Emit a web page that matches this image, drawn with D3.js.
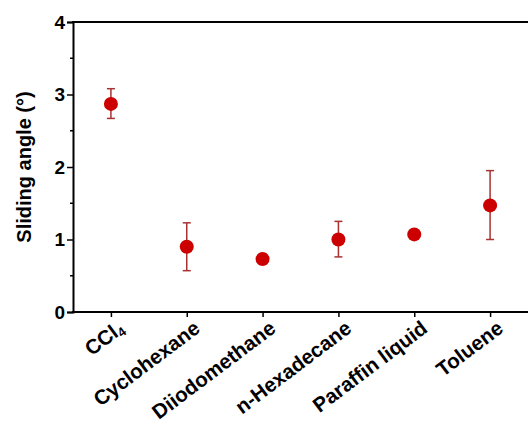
<!DOCTYPE html>
<html>
<head>
<meta charset="utf-8">
<script src="https://cdn.jsdelivr.net/npm/d3@7"></script>
<style>
  body { margin: 0; background: #fff; }
  svg { display: block; }
  svg text { font-family: 'Liberation Sans', Arial, sans-serif; font-weight: bold; fill: #000; }
</style>
</head>
<body>
<div id="chart"></div>
<script>
const liquids = ['CCl4', 'Cyclohexane', 'Diiodomethane', 'n-Hexadecane', 'Paraffin liquid', 'Toluene']
const angleMean = [2.87, 0.90, 0.73, 1.00, 1.07, 1.47]
const angleErrHigh = [3.08, 1.23, 0.80, 1.25, 1.12, 1.95]
const angleErrLow = [2.67, 0.57, 0.66, 0.76, 1.01, 1.00]
const yTicks = [0, 1, 2, 3, 4]
const yMinorTicks = [0.5, 1.5, 2.5, 3.5]

const width = 528
const height = 426
const margin = { top: 22, right: 0, bottom: 114, left: 73 }

const svg = d3.select('#chart')
  .append('svg')
  .attr('width', width)
  .attr('height', height)

const x = d3.scalePoint()
  .domain(liquids)
  .range([margin.left, width - margin.right])
  .padding(0.5)

const y = d3.scaleLinear()
  .domain([0, 4])
  .range([height - margin.bottom, margin.top])

const points = liquids.map((name, i) => ({
  name,
  mean: angleMean[i],
  hi: angleErrHigh[i],
  lo: angleErrLow[i]
}))

// y axis
const yAxis = svg.append('g')
  .attr('transform', `translate(${margin.left},0)`)
  .call(d3.axisLeft(y).tickValues(yTicks).tickFormat(d3.format('d')).tickSize(6).tickPadding(2))
yAxis.select('.domain').attr('stroke-width', 2)
yAxis.selectAll('.tick line').attr('stroke-width', 1.5)
yAxis.selectAll('.tick text').style('font-size', '19px')

yAxis.selectAll('.minor')
  .data(yMinorTicks)
  .enter()
  .append('line')
  .attr('class', 'minor')
  .attr('x1', -3)
  .attr('x2', 0)
  .attr('y1', d => y(d))
  .attr('y2', d => y(d))
  .attr('stroke', '#000')
  .attr('stroke-width', 1.5)

// x axis
const xAxis = svg.append('g')
  .attr('transform', `translate(0,${height - margin.bottom})`)
  .call(d3.axisBottom(x).tickSize(5).tickFormat(''))
xAxis.select('.domain').remove()
xAxis.selectAll('.tick line').attr('stroke-width', 1.5)
xAxis.append('line')
  .attr('x1', margin.left - 1)
  .attr('x2', width)
  .attr('stroke', '#000')
  .attr('stroke-width', 2)

const labels = xAxis.selectAll('.tick')
  .append('text')
  .style('font-size', '20.5px')
  .attr('text-anchor', 'end')
  .attr('transform', 'translate(14,19) rotate(-37)')

labels.each(function (d) {
  const t = d3.select(this)
  if (d === 'CCl4') {
    t.append('tspan').text('CCl')
    t.append('tspan').style('font-size', '13px').attr('dy', 3).text('4')
  } else {
    t.text(d)
  }
})

// top frame line
svg.append('line')
  .attr('x1', margin.left - 1)
  .attr('x2', width)
  .attr('y1', y(4))
  .attr('y2', y(4))
  .attr('stroke', '#000')
  .attr('stroke-width', 2)

// y label
svg.append('text')
  .attr('transform', `translate(31,${(y(0) + y(4)) / 2}) rotate(-90)`)
  .attr('text-anchor', 'middle')
  .style('font-size', '20px')
  .text('Sliding angle (°)')

// error bars
const bars = svg.append('g').attr('class', 'errors')
  .selectAll('g')
  .data(points)
  .enter()
  .append('g')
  .attr('stroke', '#a83232')
  .attr('stroke-width', 1.5)

bars.append('line')
  .attr('x1', d => x(d.name))
  .attr('x2', d => x(d.name))
  .attr('y1', d => y(d.hi))
  .attr('y2', d => y(d.lo))
bars.append('line')
  .attr('x1', d => x(d.name) - 4)
  .attr('x2', d => x(d.name) + 4)
  .attr('y1', d => y(d.hi))
  .attr('y2', d => y(d.hi))
bars.append('line')
  .attr('x1', d => x(d.name) - 4)
  .attr('x2', d => x(d.name) + 4)
  .attr('y1', d => y(d.lo))
  .attr('y2', d => y(d.lo))

// points
svg.append('g').attr('class', 'points')
  .selectAll('circle')
  .data(points)
  .enter()
  .append('circle')
  .attr('cx', d => x(d.name))
  .attr('cy', d => y(d.mean))
  .attr('r', 7)
  .attr('fill', '#cc0000')
</script>
</body>
</html>
